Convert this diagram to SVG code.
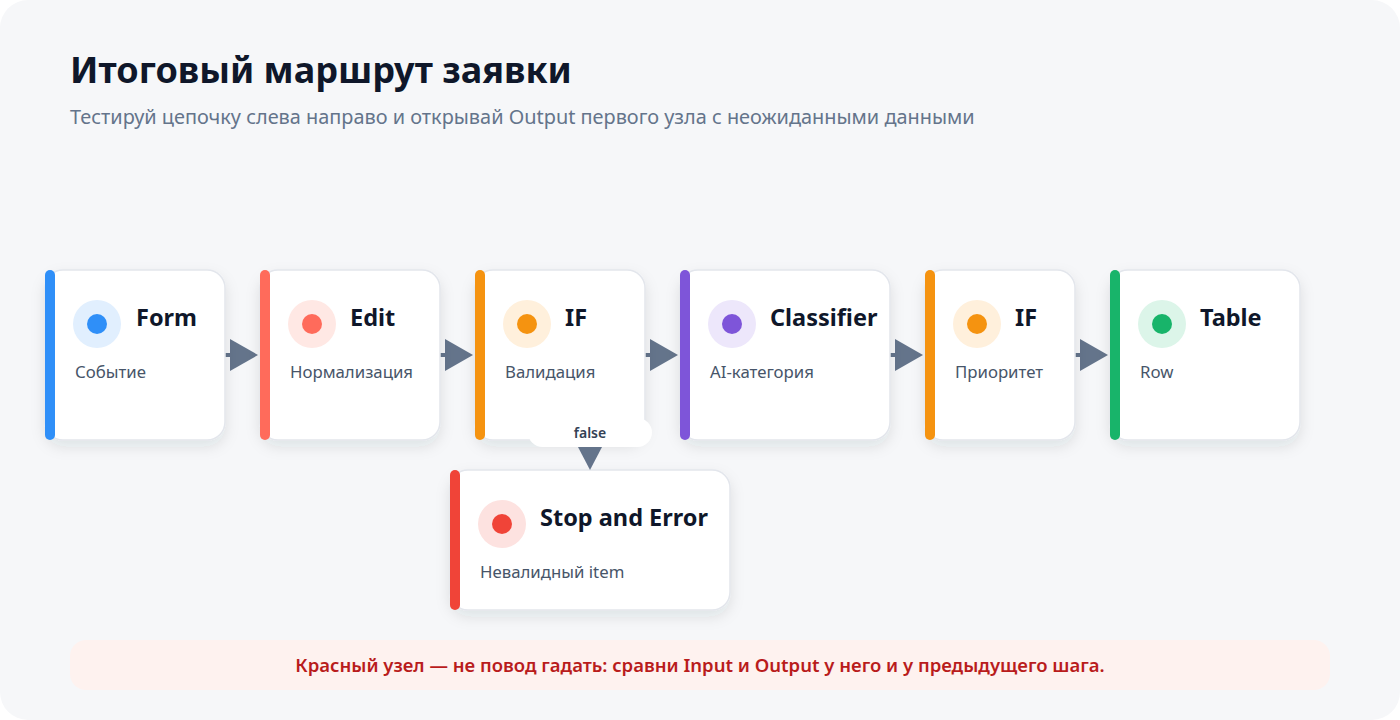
<svg xmlns="http://www.w3.org/2000/svg" width="1400" height="720" viewBox="0 0 1400 720">
<defs>
<filter id="sh" x="-20%" y="-20%" width="140%" height="150%">
<feDropShadow dx="0" dy="6" stdDeviation="7" flood-color="#1e293b" flood-opacity="0.10"/>
</filter>
</defs>
<style>
text{font-family:"Noto Sans","Open Sans","Liberation Sans",sans-serif}
.card{fill:#ffffff;stroke:#e3e6ec;stroke-width:1.5;filter:url(#sh)}
.ttl{font-size:23.5px;font-weight:700;fill:#0f172a}
.sub{font-size:16.8px;fill:#475569}
.ln{stroke:#64748b;stroke-width:4}
.hd{fill:#64748b}
</style>
<rect x="0" y="0" width="1400" height="720" rx="28" fill="#f6f7f9"/>
<text x="70" y="83" font-size="36" font-weight="700" fill="#0f172a">Итоговый маршрут заявки</text>
<text x="70" y="124" font-size="19.9" fill="#64748b">Тестируй цепочку слева направо и открывай Output первого узла с неожиданными данными</text>

<g id="connectors">
<line class="ln" x1="225" y1="355" x2="234" y2="355"/><polygon class="hd" points="230,339 258,355 230,371"/>
<line class="ln" x1="440" y1="355" x2="449" y2="355"/><polygon class="hd" points="445,339 473,355 445,371"/>
<line class="ln" x1="645" y1="355" x2="654" y2="355"/><polygon class="hd" points="650,339 678,355 650,371"/>
<line class="ln" x1="890" y1="355" x2="899" y2="355"/><polygon class="hd" points="895,339 923,355 895,371"/>
<line class="ln" x1="1075" y1="355" x2="1084" y2="355"/><polygon class="hd" points="1080,339 1108,355 1080,371"/>
</g>

<g id="n-form">
<rect class="card" x="45" y="270" width="180" height="170" rx="18"/>
<rect x="45" y="270" width="10" height="170" rx="5" fill="#2f8ff8"/>
<circle cx="97" cy="324" r="24" fill="#e1effe"/><circle cx="97" cy="324" r="10" fill="#2f8ff8"/>
<text class="ttl" x="136" y="326">Form</text>
<text class="sub" x="75" y="378">Событие</text>
</g>
<g id="n-edit">
<rect class="card" x="260" y="270" width="180" height="170" rx="18"/>
<rect x="260" y="270" width="10" height="170" rx="5" fill="#ff6b5b"/>
<circle cx="312" cy="324" r="24" fill="#ffe8e4"/><circle cx="312" cy="324" r="10" fill="#ff6b5b"/>
<text class="ttl" x="350" y="326">Edit</text>
<text class="sub" x="290" y="378">Нормализация</text>
</g>
<g id="n-if1">
<rect class="card" x="475" y="270" width="170" height="170" rx="18"/>
<rect x="475" y="270" width="10" height="170" rx="5" fill="#f59310"/>
<circle cx="527" cy="324" r="24" fill="#fff0dc"/><circle cx="527" cy="324" r="10" fill="#f59310"/>
<text class="ttl" x="565" y="326">IF</text>
<text class="sub" x="505" y="378">Валидация</text>
</g>
<g id="n-classifier">
<rect class="card" x="680" y="270" width="210" height="170" rx="18"/>
<rect x="680" y="270" width="10" height="170" rx="5" fill="#7e55d9"/>
<circle cx="732" cy="324" r="24" fill="#ede7fb"/><circle cx="732" cy="324" r="10" fill="#7e55d9"/>
<text class="ttl" x="770" y="326">Classifier</text>
<text class="sub" x="710" y="378">AI-категория</text>
</g>
<g id="n-if2">
<rect class="card" x="925" y="270" width="150" height="170" rx="18"/>
<rect x="925" y="270" width="10" height="170" rx="5" fill="#f59310"/>
<circle cx="977" cy="324" r="24" fill="#fff0dc"/><circle cx="977" cy="324" r="10" fill="#f59310"/>
<text class="ttl" x="1015" y="326">IF</text>
<text class="sub" x="955" y="378">Приоритет</text>
</g>
<g id="n-table">
<rect class="card" x="1110" y="270" width="190" height="170" rx="18"/>
<rect x="1110" y="270" width="10" height="170" rx="5" fill="#18b46a"/>
<circle cx="1162" cy="324" r="24" fill="#dcf5e9"/><circle cx="1162" cy="324" r="10" fill="#18b46a"/>
<text class="ttl" x="1200" y="326">Table</text>
<text class="sub" x="1140" y="378">Row</text>
</g>
<g id="n-stop">
<rect class="card" x="450" y="470" width="280" height="140" rx="18"/>
<rect x="450" y="470" width="10" height="140" rx="5" fill="#f04438"/>
<circle cx="502" cy="524" r="24" fill="#fde2e0"/><circle cx="502" cy="524" r="10" fill="#f04438"/>
<text class="ttl" x="540" y="526">Stop and Error</text>
<text class="sub" x="480" y="578">Невалидный item</text>
</g>

<g id="false-branch">
<rect x="528" y="418" width="124" height="29" rx="14.5" fill="#ffffff"/>
<text x="590" y="438" font-size="14" font-weight="600" fill="#334155" text-anchor="middle">false</text>
<polygon class="hd" points="578,447 602,447 590,470"/>
</g>

<g id="note">
<rect x="70" y="640" width="1260" height="50" rx="16" fill="#fef2ef"/>
<text x="700" y="672" font-size="18.5" font-weight="600" fill="#b91c1c" text-anchor="middle">Красный узел — не повод гадать: сравни Input и Output у него и у предыдущего шага.</text>
</g>
</svg>
